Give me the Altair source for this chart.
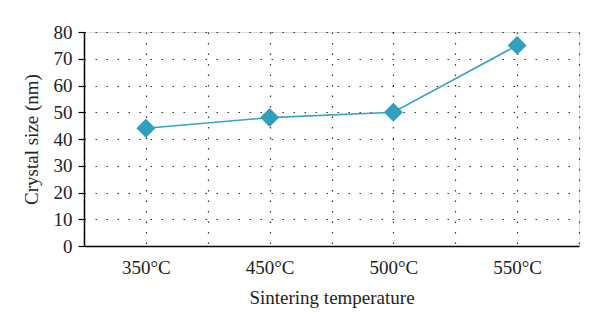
import altair as alt
import pandas as pd

temps = ["350°C", "450°C", "500°C", "550°C"]
sizes = [44, 48, 50, 75]

df = pd.DataFrame({"idx": list(range(len(temps))), "temp": temps, "size": sizes})

label_expr = "datum.value % 1 == 0 ? " + str(temps) + "[datum.value] : ''"

FONT = "Liberation Serif"
COLOR = "#38a5c1"

x = alt.X("idx:Q", scale=alt.Scale(domain=[-0.5, 3.5], nice=False, zero=False),
          axis=alt.Axis(values=[-0.5, 0, 0.5, 1, 1.5, 2, 2.5, 3, 3.5], labelExpr=label_expr,
                        title="Sintering temperature", ticks=False, grid=True,
                        gridColor="#333", gridDash=[1.5, 9], gridWidth=1.2,
                        domainColor="black", domainWidth=1.5,
                        labelFont=FONT, labelFontSize=19, labelColor="#222", labelPadding=12,
                        titleFont=FONT, titleFontSize=19, titleFontWeight="normal", titleColor="#222",
                        titlePadding=11))
y = alt.Y("size:Q", scale=alt.Scale(domain=[0, 80], nice=False),
          axis=alt.Axis(values=list(range(0, 81, 10)), title="Crystal size (nm)",
                        grid=True, gridColor="#333", gridDash=[1.5, 9.5], gridWidth=1.2,
                        ticks=True, tickSize=6, tickColor="black", tickWidth=1.2,
                        domainColor="black", domainWidth=1.5,
                        labelFont=FONT, labelFontSize=19, labelColor="#222", labelPadding=6,
                        titleFont=FONT, titleFontSize=19, titleFontWeight="normal", titleColor="#222",
                        titlePadding=12))

line = alt.Chart(df).mark_line(color=COLOR, strokeWidth=1.6).encode(x=x, y=y)
pts = alt.Chart(df).mark_point(shape="diamond", filled=True, color="#2fa0bd", opacity=1, size=360).encode(x=x, y=y)

chart = (line + pts).properties(
    width=495, height=214,
    autosize=alt.AutoSizeParams(type="none"),
    padding={"left": 84, "top": 32, "right": 21, "bottom": 82},
).configure_view(stroke="black", strokeWidth=2).configure(background="white")

chart.save("out.html", embed_options={"renderer": "svg", "actions": False})
